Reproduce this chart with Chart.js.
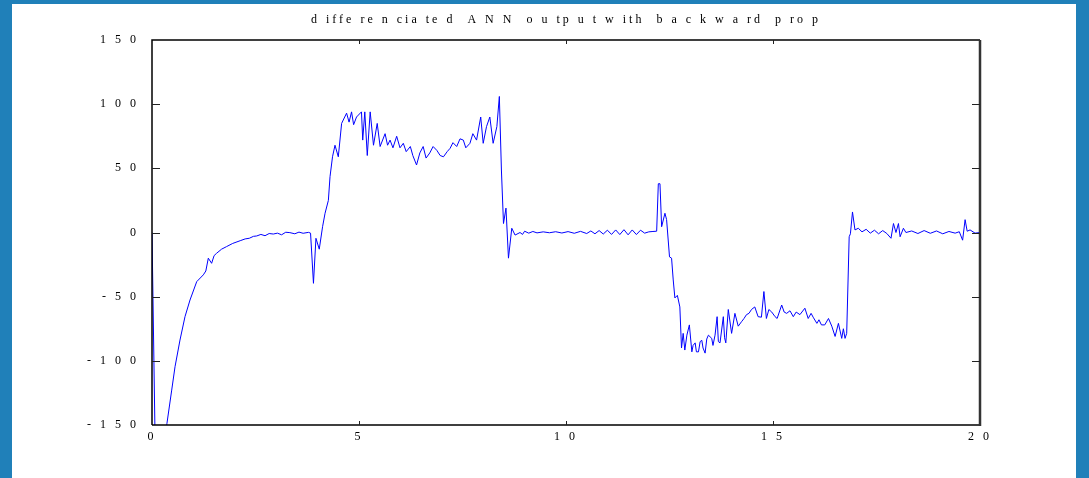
<!DOCTYPE html>
<html>
<head>
<meta charset="utf-8">
<script src="https://cdn.jsdelivr.net/npm/chart.js@4/dist/chart.umd.min.js"></script>
<style>
  html, body { margin: 0; padding: 0; }
  body { width: 1089px; height: 478px; background: #2080b9; position: relative; overflow: hidden; }
  #sheet { position: absolute; left: 12px; top: 4px; width: 1064px; height: 474px; background: #fff; }
  #chart { position: absolute; left: 0; top: 0; }
</style>
</head>
<body>
<div id="sheet"></div>
<canvas id="chart" width="1089" height="478"></canvas>
<script>
// x positions (time) and differentiated ANN output
const xs = [
  0, 0.12, 0.36, 0.476, 0.556, 0.676, 0.797, 0.918, 1.08, 1.24, 1.30, 1.36, 1.44, 1.50, 1.56, 1.68, 1.80, 1.95, 2.13, 2.25, 2.35, 2.45, 2.53, 2.63, 2.73, 2.83, 2.93, 3.03, 3.13, 3.23, 3.33, 3.45, 3.55, 3.65, 3.78, 3.83,
  3.90, 3.96, 4.04, 4.12, 4.18, 4.26, 4.30, 4.36, 4.42, 4.50, 4.58, 4.70, 4.76, 4.82, 4.87, 4.94, 5.06, 5.09, 5.14, 5.20, 5.27, 5.35, 5.44, 5.51, 5.63, 5.69, 5.75, 5.82, 5.91, 5.99,
  6.07, 6.14, 6.24, 6.30, 6.39, 6.47, 6.55, 6.62, 6.71, 6.79, 6.88, 6.96, 7.04, 7.13, 7.20, 7.27, 7.36, 7.44, 7.52, 7.58, 7.68, 7.75, 7.84, 7.94, 8.00, 8.08, 8.16, 8.24, 8.33, 8.39,
  8.44, 8.49, 8.55, 8.61, 8.69, 8.77, 8.89, 8.95, 9.00, 9.10, 9.20, 9.30, 9.45, 9.60, 9.75, 9.90, 10.05, 10.20, 10.35, 10.50, 10.60, 10.70, 10.80, 10.90, 11.00, 11.10, 11.20, 11.30, 11.40, 11.50, 11.60, 11.70, 11.80, 11.90, 12.00, 12.10,
  12.19, 12.23, 12.27, 12.31, 12.39, 12.43, 12.50, 12.55, 12.59, 12.63, 12.69, 12.75, 12.79, 12.83, 12.87, 12.92, 12.98, 13.04, 13.07, 13.12, 13.15, 13.20, 13.24, 13.28, 13.31, 13.36, 13.40, 13.44, 13.52, 13.55, 13.60, 13.65, 13.68, 13.72, 13.80, 13.83, 13.86, 13.92,
  14.00, 14.08, 14.16, 14.24, 14.30, 14.36, 14.42, 14.48, 14.56, 14.64, 14.72, 14.78, 14.84, 14.90, 14.97, 15.05, 15.10, 15.21, 15.27, 15.33, 15.41, 15.49, 15.56, 15.65, 15.77, 15.85, 15.92, 15.97,
  16.06, 16.11, 16.17, 16.25, 16.34, 16.42, 16.50, 16.58, 16.66, 16.70, 16.74, 16.78, 16.84, 16.87, 16.92, 16.98, 17.06, 17.15, 17.25, 17.35, 17.45, 17.55, 17.65, 17.75, 17.85, 17.91, 17.97, 18.03, 18.07, 18.15, 18.21,
  18.35, 18.50, 18.65, 18.80, 18.95, 19.10, 19.25, 19.40, 19.50, 19.58, 19.64, 19.69, 19.76, 19.88, 20
];
const ys = [
  0, -260, -149, -122.8, -104.6, -83.8, -65.6, -52.6, -38.3, -33, -30, -20, -24, -18, -16.2, -13, -11, -8.5, -6.4, -5, -4.5, -3, -2.7, -1.5, -2.5, -0.8, -1.2, -0.5, -1.8, 0.2, -0.1, -1, 0.3, -0.6, 0.1, -0.5,
  -39.6, -4.5, -13, 4.5, 15, 25, 43.5, 59, 68, 59, 85, 93, 86, 94, 84, 90, 94, 72, 94, 60, 94, 68, 85, 67, 77, 68, 72, 66, 75, 66,
  69.5, 63, 67, 60, 52.6, 62, 67, 58, 62, 67, 64, 60, 59, 63, 65.6, 70, 67, 73, 72, 66, 69.5, 77, 72, 90, 69.5, 82.5, 90, 69.5, 82.5, 106,
  48.7, 7, 19, -20, 3.3, -2, 0, -1.5, 1, -0.5, 0.8, -0.3, 0.5, -0.2, 0.6, -0.4, 0.7, -0.6, 0.9, -0.8, 1.2, -1, 1.5, -1.2, 1.8, -1.5, 2, -1.6, 2.2, -1.8, 2, -1.6, 1.8, -0.5, 0.5, 0.8,
  1, 38, 38, 4.5, 15, 10, -19, -20, -37, -51, -49, -58, -90, -78.6, -91.6, -80, -72, -93, -88, -86, -93, -93, -85, -84, -90, -94, -83, -80, -82.5, -88, -80, -65.6, -85, -86, -65.6, -82, -86, -60,
  -78.6, -63, -73, -69.5, -67, -64, -63, -60, -58, -65.6, -66, -46, -67, -60, -62, -65.6, -67, -56.5, -62, -63, -61, -65.6, -62, -64, -59, -67, -63, -66,
  -70.8, -68, -72, -72, -67, -73, -81, -70.8, -82.5, -75, -82.5, -78.6, -3.3, -1, 16, 2, 3.3, 0.5, 2.5, -0.5, 1.8, -1, 1.5, -0.8, -4.5, 7, 0, 7, -3.3, 3.3, 0,
  1.2, -0.8, 1.5, -0.6, 1.2, -1, 0.8, -0.5, 0.6, -6, 10, 1, 2, -0.5, 0
];
const yTicks = [-150, -100, -50, 0, 50, 100, 150];
const xTicks = [0, 5, 10, 15, 20];

const spaced = v => String(v).split('').join(' ');
const serif = "'Liberation Serif', 'Times New Roman', serif";

// wide letter spacing of the old plot's text
const spacingPlugin = {
  id: 'spacing',
  beforeDraw(chart) { chart.ctx.letterSpacing = '3px'; }
};

// frame plus inward ticks like the original plot
const framePlugin = {
  id: 'frame',
  afterDraw(chart) {
    const { ctx, chartArea: a, scales } = chart;
    ctx.save();
    ctx.strokeStyle = '#000';
    ctx.lineWidth = 1.5;
    ctx.beginPath();
    ctx.moveTo(a.left, a.bottom);
    ctx.lineTo(a.left, a.top);
    ctx.lineTo(a.right, a.top);
    ctx.moveTo(a.left, a.bottom);
    ctx.lineTo(a.right, a.bottom);
    ctx.stroke();
    ctx.strokeStyle = '#333';
    ctx.lineWidth = 2.5;
    ctx.beginPath();
    ctx.moveTo(a.right, a.top);
    ctx.lineTo(a.right, a.bottom + 1);
    ctx.stroke();
    ctx.strokeStyle = '#222';
    ctx.lineWidth = 1;
    ctx.beginPath();
    yTicks.slice(1, -1).forEach(v => {
      const y = Math.round(scales.y.getPixelForValue(v)) + 0.5;
      ctx.moveTo(a.left, y); ctx.lineTo(a.left + 8, y);
      ctx.moveTo(a.right, y); ctx.lineTo(a.right - 8, y);
    });
    xTicks.slice(1, -1).forEach(v => {
      const x = Math.round(scales.x.getPixelForValue(v)) + 0.5;
      ctx.moveTo(x, a.bottom); ctx.lineTo(x, a.bottom - 4);
      ctx.moveTo(x, a.top); ctx.lineTo(x, a.top + 4);
    });
    ctx.stroke();
    ctx.restore();
  }
};

new Chart(document.getElementById('chart'), {
  type: 'line',
  data: {
    datasets: [{
      data: xs.map((x, i) => ({ x: x, y: ys[i] })),
      borderColor: '#0000ff',
      borderWidth: 1,
      pointRadius: 0,
      tension: 0,
      fill: false
    }]
  },
  options: {
    responsive: false,
    animation: false,
    layout: { padding: { left: 0, right: 109, top: 0, bottom: 0 } },
    plugins: {
      legend: { display: false },
      tooltip: { enabled: false },
      title: {
        display: true,
        fullSize: false,
        text: 'd iffe re n cia te d  A N N  o u tp u t w ith  b a c k w a rd  p ro p',
        color: '#000',
        font: { family: serif, size: 12, weight: 'normal', lineHeight: 1.2 },
        padding: { top: 13, bottom: 12.6 }
      }
    },
    scales: {
      x: {
        type: 'linear',
        min: 0, max: 20,
        afterFit: s => { s.height = 53; },
        afterBuildTicks: s => { s.ticks = xTicks.map(v => ({ value: v })); },
        grid: { display: false, drawTicks: false },
        border: { display: false },
        ticks: {
          color: '#000', padding: 5, maxRotation: 0,
          font: { family: serif, size: 12 },
          callback: v => spaced(v)
        }
      },
      y: {
        min: -150, max: 150,
        afterFit: s => { s.width = 152; },
        afterBuildTicks: s => { s.ticks = yTicks.map(v => ({ value: v })); },
        grid: { display: false, drawTicks: false },
        border: { display: false },
        ticks: {
          color: '#000', padding: 13,
          font: { family: serif, size: 12 },
          callback: v => spaced(v)
        }
      }
    }
  },
  plugins: [spacingPlugin, framePlugin]
});
</script>
</body>
</html>
